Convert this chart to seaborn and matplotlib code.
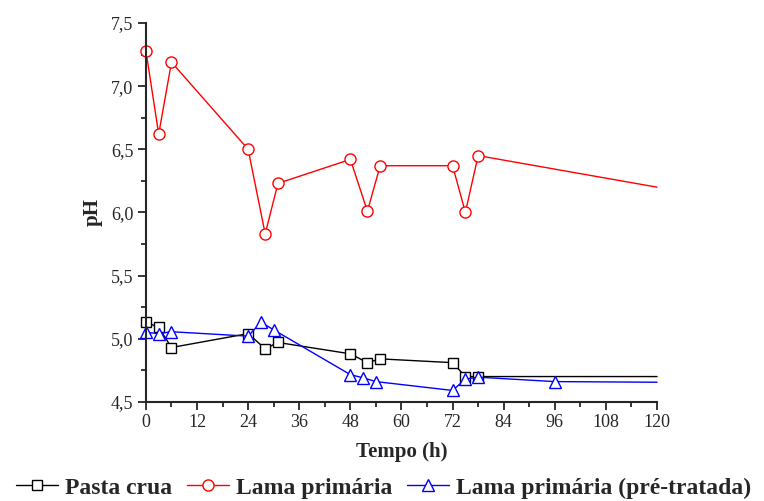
import matplotlib
matplotlib.use("Agg")
import matplotlib.pyplot as plt
import seaborn as sns
import pandas as pd
from matplotlib.ticker import MultipleLocator, FuncFormatter

# Data (last point of each series only extends the line to the axis edge)
t_pasta = [0, 3, 6, 24, 28, 31, 48, 52, 55, 72, 75, 78, 120]
ph_pasta = [5.13, 5.09, 4.93, 5.04, 4.92, 4.97, 4.88, 4.81, 4.84, 4.81, 4.70, 4.70, 4.70]

t_lama = [0, 3, 6, 24, 28, 31, 48, 52, 55, 72, 75, 78, 120]
ph_lama = [7.28, 6.62, 7.19, 6.50, 5.83, 6.23, 6.42, 6.01, 6.37, 6.37, 6.00, 6.45, 6.20]

t_pre = [0, 3, 6, 24, 27, 30, 48, 51, 54, 72, 75, 78, 96, 120]
ph_pre = [5.05, 5.04, 5.055, 5.02, 5.13, 5.07, 4.715, 4.69, 4.66, 4.59, 4.68, 4.695, 4.66, 4.655]

labels = ["Pasta crua", "Lama primária", "Lama primária (pré-tratada)"]
xticks = [0, 12, 24, 36, 48, 60, 72, 84, 96, 108, 120]

sns.set_style("ticks")
plt.rcParams['font.family'] = ['Liberation Serif', 'DejaVu Serif']

fig = plt.figure(figsize=(7.64, 5.01), dpi=100)
ax = fig.add_axes([0.191, 0.198, 0.669, 0.756])

series = [
    (t_pasta, ph_pasta, labels[0], "black", "s", 7),
    (t_lama, ph_lama, labels[1], "#ff0000", "o", 8),
    (t_pre, ph_pre, labels[2], "#0000ff", "^", 9),
]
for t, ph, lab, col, mk, ms in series:
    df = pd.DataFrame({"t": t, "pH": ph})
    sns.lineplot(data=df, x="t", y="pH", ax=ax, color=col, marker=mk,
                 markersize=ms, markerfacecolor="white", markeredgecolor=col,
                 markeredgewidth=1.0, linewidth=1.0, sort=False,
                 estimator=None, label=lab, markevery=list(range(len(t) - 1)),
                 clip_on=False)

ax.set_xlim(0, 120)
ax.set_ylim(4.5, 7.5)
ax.set_xticks(xticks)
ax.xaxis.set_minor_locator(MultipleLocator(6))
ax.yaxis.set_major_locator(MultipleLocator(0.5))
ax.yaxis.set_minor_locator(MultipleLocator(0.25))
ax.yaxis.set_major_formatter(FuncFormatter(lambda v, p: f"{v:.1f}".replace(".", ",")))
ax.tick_params(axis="both", which="major", length=6, width=1.3, labelsize=13, direction="out", pad=3)
ax.tick_params(axis="both", which="minor", length=3.5, width=1.3, direction="out")
for s in ["left", "bottom"]:
    ax.spines[s].set_linewidth(1.5)
sns.despine(ax=ax)

ax.set_xlabel("Tempo (h)", fontsize=15, fontweight="bold", labelpad=8)
ax.set_ylabel("pH", fontsize=15, fontweight="bold", labelpad=6)

leg = ax.legend(loc="center", bbox_to_anchor=(0.465, -0.2275), ncol=3, frameon=False,
                prop={"weight": "bold", "size": 17}, handlelength=1.8,
                handletextpad=0.3, columnspacing=0.6, borderaxespad=0, borderpad=0)

fig.savefig("out.png", dpi=100)
